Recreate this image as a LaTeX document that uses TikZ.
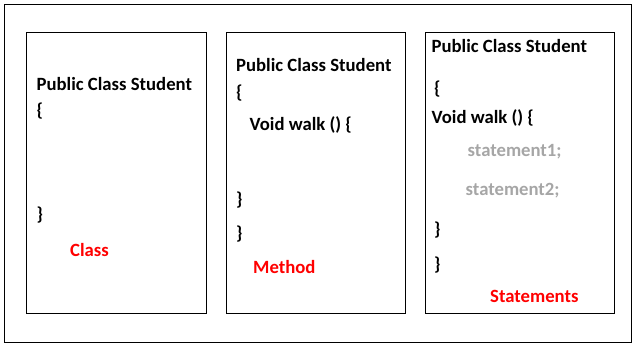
\documentclass[tikz,border=0pt]{standalone}
\usepackage{fontspec}
\setmainfont{Carlito}
\usepackage{xcolor}
\definecolor{stmtgray}{RGB}{166,166,166}
\tikzset{
  codeline/.style={anchor=base west, inner sep=0pt, font=\fontsize{18.7}{22}\selectfont\bfseries},
  stmtline/.style={codeline, text=stmtgray},
  partname/.style={codeline, text=red}
}

\begin{document}
\begin{tikzpicture}[x=1pt,y=-1pt]
\useasboundingbox (0,0) rectangle (639,347);

% Outer frame
\draw[line width=1pt] (4.5,4.5) rectangle (631,342);
% Panels
\draw[line width=1pt] (26.5,32.5) rectangle (206.5,313);
\draw[line width=1pt] (226.5,32.5) rectangle (405,313);
\draw[line width=1pt] (425.5,32.5) rectangle (614,313);

% Class
\node[codeline] (cTitle) at (36.5,91) {Public Class Student};
\node[codeline] (cOpen) at (36.5,117) {\{};
\node[codeline] (cClose) at (36.5,221) {\}};
\node[partname] (cName) at (70,256) {Class};

% Method
\node[codeline] (mTitle) at (236,72) {Public Class Student};
\node[codeline] (mOpen) at (236,99) {\{};
\node[codeline] (mWalk) at (249.5,131) {Void walk () \{};
\node[codeline] (mCloseA) at (236,206) {\}};
\node[codeline] (mCloseB) at (236,240) {\}};
\node[partname] (mName) at (253,273) {Method};

% Statements
\node[codeline] (sTitle) at (431.5,53) {Public Class Student};
\node[codeline] (sOpen) at (434,95) {\{};
\node[codeline] (sWalk) at (431.5,124) {Void walk () \{};
\node[stmtline] (sOne) at (467.5,157) {statement1;};
\node[stmtline] (sTwo) at (465.5,196) {statement2;};
\node[codeline] (sCloseA) at (434,236) {\}};
\node[codeline] (sCloseB) at (434,270) {\}};
\node[partname] (sName) at (490,302) {Statements};
\end{tikzpicture}
\end{document}
